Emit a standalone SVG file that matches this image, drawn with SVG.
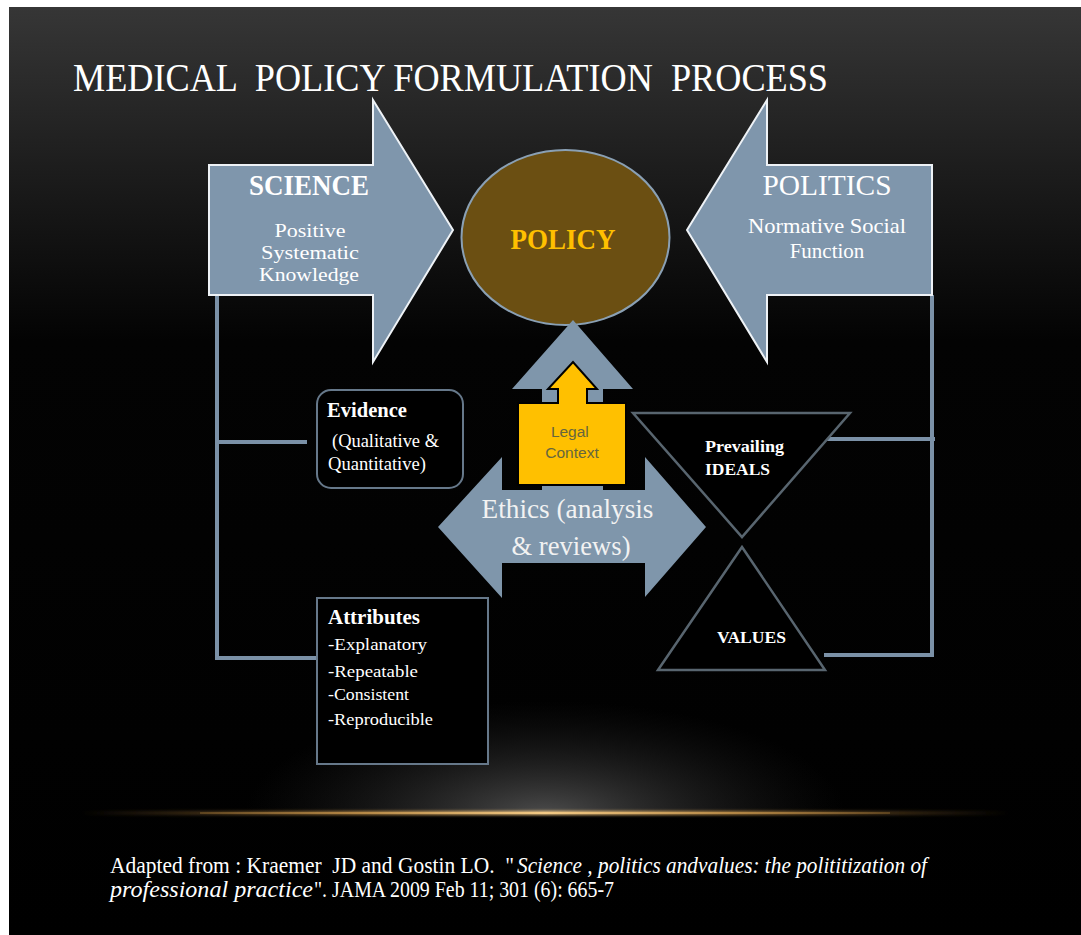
<svg xmlns="http://www.w3.org/2000/svg" width="1081" height="935" viewBox="0 0 1081 935">
  <defs>
    <linearGradient id="bg" x1="0" y1="7" x2="0" y2="935" gradientUnits="userSpaceOnUse">
      <stop offset="0" stop-color="#363636"/>
      <stop offset="0.2" stop-color="#191919"/>
      <stop offset="0.36" stop-color="#030303"/>
      <stop offset="1" stop-color="#000000"/>
    </linearGradient>
    <radialGradient id="spot" cx="545" cy="815" r="300" gradientUnits="userSpaceOnUse" gradientTransform="translate(545 815) scale(1 0.38) translate(-545 -815)">
      <stop offset="0" stop-color="#5a5a5a" stop-opacity="0.85"/>
      <stop offset="0.5" stop-color="#3a3a3a" stop-opacity="0.45"/>
      <stop offset="1" stop-color="#222222" stop-opacity="0"/>
    </radialGradient>
    <linearGradient id="rim" x1="80" y1="0" x2="1010" y2="0" gradientUnits="userSpaceOnUse">
      <stop offset="0" stop-color="#a07030" stop-opacity="0"/>
      <stop offset="0.3" stop-color="#c0904a" stop-opacity="0.8"/>
      <stop offset="0.5" stop-color="#f2c985" stop-opacity="1"/>
      <stop offset="0.7" stop-color="#c0904a" stop-opacity="0.8"/>
      <stop offset="1" stop-color="#a07030" stop-opacity="0"/>
    </linearGradient>
    <filter id="soft" x="-5%" y="-200%" width="110%" height="500%">
      <feGaussianBlur stdDeviation="1.6"/>
    </filter>
    <clipPath id="below">
      <rect x="0" y="0" width="1081" height="813"/>
    </clipPath>
  </defs>
  <style>
    .serif { font-family: "Liberation Serif", "Times New Roman", serif; }
    .sans { font-family: "Liberation Sans", Arial, sans-serif; }
    .blk { fill: #7f96ac; stroke: #eef2f6; stroke-width: 2; }
    .wire { fill: none; stroke: #7b91a7; stroke-width: 4; }
    .frame { fill: #000; stroke: #66788a; stroke-width: 2; }
    .tri { fill: #000; stroke: #58656f; stroke-width: 2.5; }
    .wt { fill: #ffffff; }
  </style>

  <!-- page and backdrop -->
  <rect x="0" y="0" width="1081" height="935" fill="#ffffff"/>
  <rect x="9" y="7" width="1072" height="928" fill="url(#bg)"/>
  <ellipse cx="545" cy="815" rx="420" ry="130" fill="url(#spot)" clip-path="url(#below)"/>
  <rect x="80" y="811" width="930" height="4" fill="url(#rim)" filter="url(#soft)"/>
  <rect x="200" y="812" width="690" height="2" fill="url(#rim)"/>

  <!-- title -->
  <text class="serif wt" x="73" y="91" font-size="39" textLength="755" lengthAdjust="spacingAndGlyphs" xml:space="preserve">MEDICAL  POLICY FORMULATION  PROCESS</text>

  <!-- connectors -->
  <g id="connectors">
    <path class="wire" d="M217,295 V658 H317"/>
    <path class="wire" d="M217,442 H307"/>
    <path class="wire" d="M932,295 V655 H824"/>
    <path class="wire" d="M827,439 H935"/>
  </g>

  <!-- policy -->
  <g id="policy">
    <ellipse cx="565.5" cy="237.5" rx="104" ry="87.5" fill="#6b4f12" stroke="#8aa0b4" stroke-width="2"/>
    <text class="serif" x="563" y="249" font-size="29" font-weight="bold" fill="#ffc000" text-anchor="middle" textLength="105" lengthAdjust="spacingAndGlyphs">POLICY</text>
  </g>

  <!-- science -->
  <g id="science">
    <path class="blk" d="M209,165 H373 V100 L453,230 L373,362 V295 H209 Z"/>
    <text class="serif wt" x="309" y="195" font-size="30" font-weight="bold" text-anchor="middle" textLength="120" lengthAdjust="spacingAndGlyphs">SCIENCE</text>
    <text class="serif wt" x="310" y="237" font-size="19.5" text-anchor="middle" textLength="71" lengthAdjust="spacingAndGlyphs">Positive</text>
    <text class="serif wt" x="310" y="259" font-size="19.5" text-anchor="middle" textLength="98" lengthAdjust="spacingAndGlyphs">Systematic</text>
    <text class="serif wt" x="309" y="281" font-size="19.5" text-anchor="middle" textLength="100" lengthAdjust="spacingAndGlyphs">Knowledge</text>
  </g>

  <!-- politics -->
  <g id="politics">
    <path class="blk" d="M932,165 H767 V100 L687,230 L767,362 V295 H932 Z"/>
    <text class="serif wt" x="827" y="195" font-size="30" text-anchor="middle" textLength="129" lengthAdjust="spacingAndGlyphs">POLITICS</text>
    <text class="serif wt" x="827" y="233" font-size="21" text-anchor="middle" textLength="158" lengthAdjust="spacingAndGlyphs">Normative Social</text>
    <text class="serif wt" x="827" y="258" font-size="21" text-anchor="middle">Function</text>
  </g>

  <!-- ethics: left-right-up arrow -->
  <g id="ethics">
    <path fill="#7f96ab" d="M573,320 L633,389 L603,389 L603,490 L645,490 L645,457 L706,527 L645,597 L645,563 L502,563 L502,598 L438,527 L502,457 L502,490 L542,490 L542,389 L512,389 Z"/>
    <text class="serif" fill="#f2f2f2" font-size="28" text-anchor="middle">
      <tspan x="571" y="518" textLength="172" lengthAdjust="spacingAndGlyphs">Ethics (analysis</tspan>
      <tspan x="571" y="555" textLength="119" lengthAdjust="spacingAndGlyphs">&amp; reviews)</tspan>
    </text>
  </g>

  <!-- legal context: up arrow callout -->
  <g id="legal">
    <path fill="#ffc000" stroke="#000" stroke-width="2" d="M518,403 H558 V389 H548 L573,362 L597,389 H587 V403 H626 V485 H518 Z"/>
    <text class="sans" fill="#66663f" font-size="15.5" text-anchor="middle">
      <tspan x="572" y="437">Legal</tspan>
      <tspan x="572" y="458">Context</tspan>
    </text>
  </g>

  <!-- evidence -->
  <g id="evidence">
    <rect class="frame" x="317" y="390" width="146" height="98" rx="14"/>
    <text class="serif wt" x="327" y="417" font-size="20" font-weight="bold" textLength="80" lengthAdjust="spacingAndGlyphs">Evidence</text>
    <text class="serif wt" x="332" y="447" font-size="18" textLength="107" lengthAdjust="spacingAndGlyphs">(Qualitative &amp;</text>
    <text class="serif wt" x="328" y="470" font-size="18" textLength="98" lengthAdjust="spacingAndGlyphs">Quantitative)</text>
  </g>

  <!-- attributes -->
  <g id="attributes">
    <rect class="frame" x="317" y="598" width="171" height="166"/>
    <text class="serif wt" x="328" y="624" font-size="21" font-weight="bold" textLength="92" lengthAdjust="spacingAndGlyphs">Attributes</text>
    <text class="serif wt" x="328" y="650" font-size="17" textLength="99" lengthAdjust="spacingAndGlyphs">-Explanatory</text>
    <text class="serif wt" x="328" y="677" font-size="17" textLength="90" lengthAdjust="spacingAndGlyphs">-Repeatable</text>
    <text class="serif wt" x="328" y="700" font-size="17" textLength="81" lengthAdjust="spacingAndGlyphs">-Consistent</text>
    <text class="serif wt" x="328" y="725" font-size="17" textLength="105" lengthAdjust="spacingAndGlyphs">-Reproducible</text>
  </g>

  <!-- prevailing ideals -->
  <g id="ideals">
    <polygon class="tri" points="633,413 850,413 742,537"/>
    <text class="serif wt" x="705" y="452" font-size="17" font-weight="bold" textLength="79" lengthAdjust="spacingAndGlyphs">Prevailing</text>
    <text class="serif wt" x="705" y="475" font-size="17" font-weight="bold" textLength="65" lengthAdjust="spacingAndGlyphs">IDEALS</text>
  </g>

  <!-- values -->
  <g id="values">
    <polygon class="tri" points="742,547 825,670 658,670"/>
    <text class="serif wt" x="717" y="643" font-size="17" font-weight="bold" textLength="69" lengthAdjust="spacingAndGlyphs">VALUES</text>
  </g>

  <!-- citation -->
  <g id="citation" class="serif wt" font-size="23">
    <text x="110" y="873" textLength="404" lengthAdjust="spacingAndGlyphs" xml:space="preserve">Adapted from : Kraemer  JD and Gostin LO.  "</text>
    <text x="517" y="873" font-style="italic" textLength="410" lengthAdjust="spacingAndGlyphs">Science , politics andvalues: the polititization of</text>
    <text x="110" y="897" font-style="italic" textLength="203" lengthAdjust="spacingAndGlyphs">professional practice</text>
    <text x="314" y="897" textLength="300" lengthAdjust="spacingAndGlyphs">". JAMA 2009 Feb 11; 301 (6): 665-7</text>
  </g>
</svg>
